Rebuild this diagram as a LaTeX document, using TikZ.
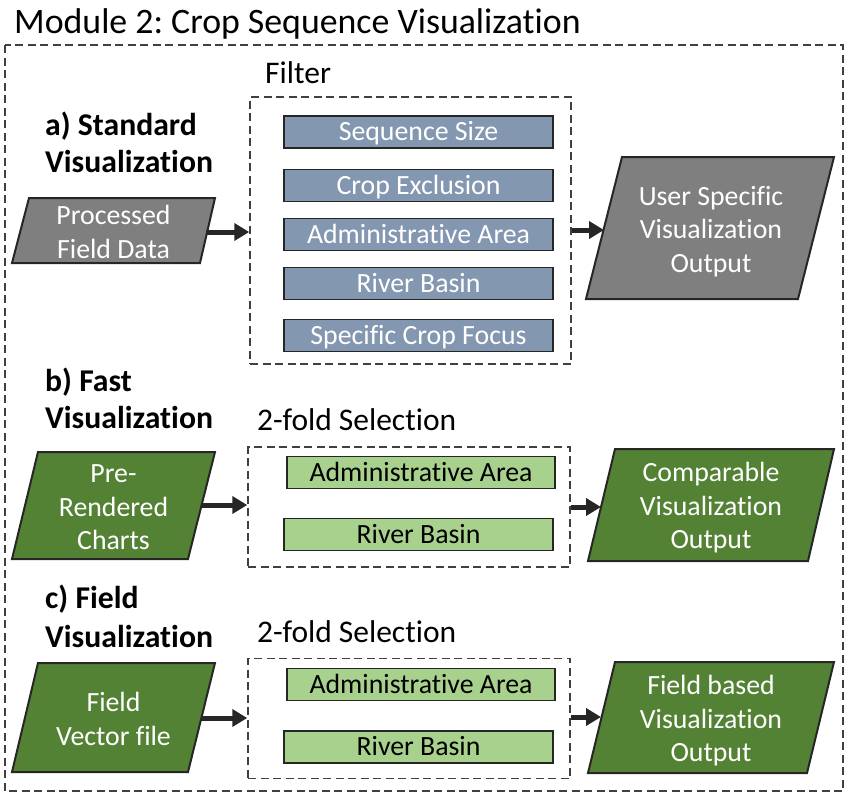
\documentclass[tikz,border=0pt]{standalone}
\usepackage{fontspec}
\setmainfont{Carlito}[Ligatures={NoCommon}]
\usetikzlibrary{arrows.meta}
\frenchspacing
\definecolor{edgec}{HTML}{262626}
\definecolor{dashc}{HTML}{404040}
\definecolor{grayfill}{HTML}{7F7F7F}
\definecolor{bluebar}{HTML}{8497B0}
\definecolor{darkgreen}{HTML}{548235}
\definecolor{lightgreen}{HTML}{A9D18E}
\tikzset{
  dashbox/.style={draw=dashc, line width=1.5pt, dash pattern=on 8pt off 4.5pt},
  para/.style={draw=edgec, line width=2pt, line join=miter},
  barbase/.style={draw=edgec, line width=1.8pt, inner sep=0pt,
    minimum width=269pt, minimum height=32pt, text height=22.5pt, text depth=5.5pt,
    font=\fontsize{27.8}{32}\selectfont},
  bluebox/.style={barbase, fill=bluebar, text=white},
  greenbox/.style={barbase, fill=lightgreen, text=black},
  paratext/.style={text=white, align=center, inner sep=0pt, font=\fontsize{27.8}{33.5}\selectfont},
  heading/.style={anchor=base west, inner sep=0pt, font=\fontsize{31.7}{36}\selectfont\bfseries},
  plain/.style={anchor=base west, inner sep=0pt, font=\fontsize{31.5}{36}\selectfont},
  flow/.style={draw=edgec, line width=5pt, -{Triangle[length=15pt,width=17pt]}, shorten >=0pt},
}
\begin{document}
\begin{tikzpicture}[x=1pt,y=-1pt]
\useasboundingbox (0,0) rectangle (848,798);
% title and outer box
\node[anchor=base west, inner sep=0pt, font=\fontsize{35.8}{40}\selectfont] (title) at (14,33) {Module 2: Crop Sequence Visualization};
\draw[dashbox] (5,45) rectangle (843,791);

% ---------- a) Standard Visualization
\node[heading] (ha1) at (45,135) {a) Standard};
\node[heading] (ha2) at (45,172) {Visualization};
\node[plain] (filterlbl) at (265,83) {Filter};
\node[dashbox, minimum width=321pt, minimum height=267pt, inner sep=0pt] (fbox) at (410.5,230.5) {};
\node[bluebox] (b1) at (418.5,132) {Sequence Size};
\node[bluebox] (b2) at (418.5,185.5) {Crop Exclusion};
\node[bluebox] (b3) at (418.5,234.5) {Administrative Area};
\node[bluebox] (b4) at (418.5,283.5) {River Basin};
\node[bluebox] (b5) at (418.5,335.5) {Specific Crop Focus};

\fill[grayfill] (29,198) -- (215,198) -- (200,263) -- (12,263) -- cycle;
\draw[para] (29,198) -- (215,198) -- (200,263) -- (12,263) -- cycle;
\node[paratext] (pin) at (113.5,232) {Processed\\Field Data};
\coordinate (pinR) at (206,232);

\fill[grayfill] (622,157) -- (834,157) -- (798,299) -- (586,299) -- cycle;
\draw[para] (622,157) -- (834,157) -- (798,299) -- (586,299) -- cycle;
\node[paratext] (pout) at (711,231.5) {User Specific\\Visualization\\Output};
\coordinate (poutL) at (604,230);

\draw[flow] (pinR) -- (pinR -| fbox.west);
\draw[flow] (fbox.east |- poutL) -- (poutL);

% ---------- b) Fast Visualization
\node[heading] (hb1) at (45,391) {b) Fast};
\node[heading] (hb2) at (45,428) {Visualization};
\node[plain] (sellbl1) at (257,430) {2-fold Selection};
\node[dashbox, minimum width=322pt, minimum height=120pt, inner sep=0pt] (sbox1) at (409,507) {};
\node[greenbox, minimum width=268pt] (g1) at (421,472.5) {Administrative Area};
\node[greenbox] (g2) at (418.5,534.5) {River Basin};

\fill[darkgreen] (38,452) -- (215,452) -- (188,559) -- (12,559) -- cycle;
\draw[para] (38,452) -- (215,452) -- (188,559) -- (12,559) -- cycle;
\node[paratext] (fin) at (113.5,507.5) {Pre-\\Rendered\\Charts};
\coordinate (finR) at (201,505);

\fill[darkgreen] (615,449) -- (834,449) -- (808,561) -- (588,561) -- cycle;
\draw[para] (615,449) -- (834,449) -- (808,561) -- (588,561) -- cycle;
\node[paratext] (fout) at (711,508) {Comparable\\Visualization\\Output};
\coordinate (foutL) at (601,507);

\draw[flow] (finR) -- (finR -| sbox1.west);
\draw[flow] (sbox1.east |- foutL) -- (foutL);

% ---------- c) Field Visualization
\node[heading] (hc1) at (45,608) {c) Field};
\node[heading] (hc2) at (45,647) {Visualization};
\node[plain] (sellbl2) at (257,642) {2-fold Selection};
\node[dashbox, minimum width=322pt, minimum height=120pt, inner sep=0pt] (sbox2) at (409,718.5) {};
\node[greenbox, minimum width=268pt] (g3) at (421,684.5) {Administrative Area};
\node[greenbox] (g4) at (418.5,747) {River Basin};

\fill[darkgreen] (38,663) -- (215,663) -- (188,772) -- (12,772) -- cycle;
\draw[para] (38,663) -- (215,663) -- (188,772) -- (12,772) -- cycle;
\node[paratext] (vin) at (113.5,719) {Field\\Vector file};
\coordinate (vinR) at (201,718);

\fill[darkgreen] (615,662) -- (834,662) -- (807,773) -- (588,773) -- cycle;
\draw[para] (615,662) -- (834,662) -- (807,773) -- (588,773) -- cycle;
\node[paratext] (vout) at (711,721) {Field based\\Visualization\\Output};
\coordinate (voutL) at (601,717);

\draw[flow] (vinR) -- (vinR -| sbox2.west);
\draw[flow] (sbox2.east |- voutL) -- (voutL);
\end{tikzpicture}
\end{document}
